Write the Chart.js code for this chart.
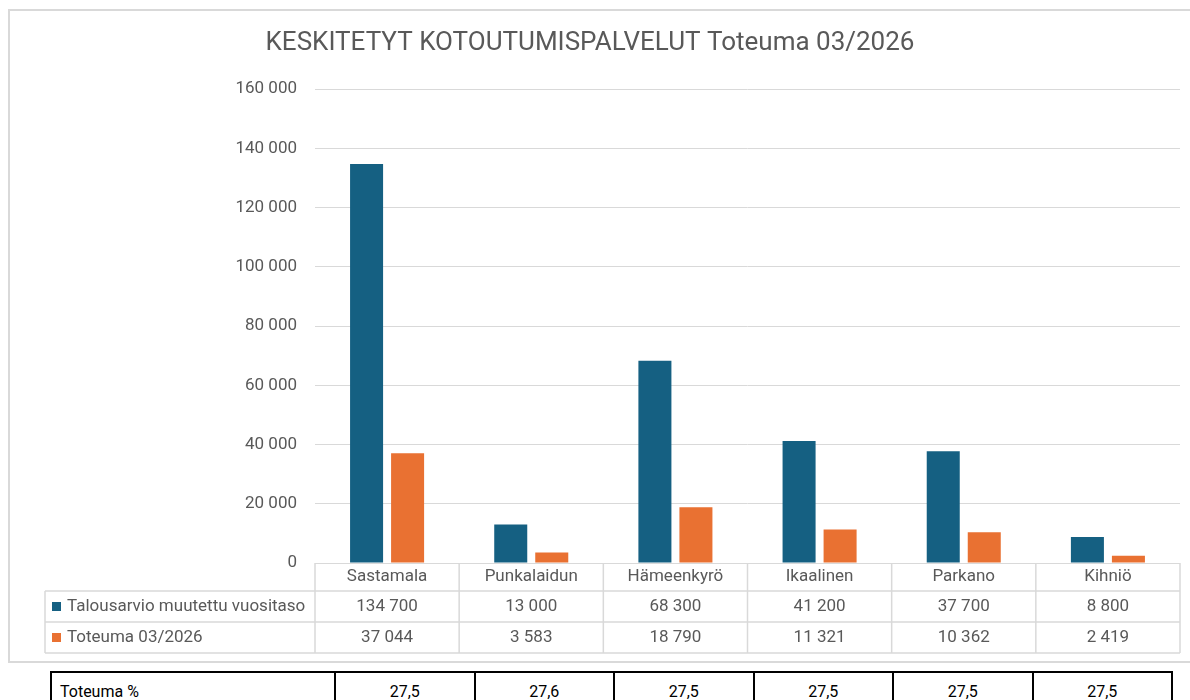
<!DOCTYPE html>
<html lang="fi">
<head>
<meta charset="UTF-8" />
<title>KESKITETYT KOTOUTUMISPALVELUT Toteuma 03/2026</title>
<script src="https://cdn.jsdelivr.net/npm/chart.js"></script>
<style>
  body { margin: 0; background: #fff; font-family: Roboto, sans-serif; overflow: hidden; }
  .frame { position: absolute; left: 8px; top: 9px; width: 1190px; height: 654px; border: 2px solid #d9d9d9; box-sizing: border-box; }
  #chart { position: absolute; left: 0; top: 0; }
  table.pct { position: absolute; left: 50px; top: 671px; width: 1123px; border-collapse: collapse; table-layout: fixed; font-size: 16px; color: #000; }
  table.pct td { border: 2px solid #000; height: 36px; padding: 0 8px; text-align: center; }
  table.pct td:first-child { text-align: left; }
</style>
</head>
<body>
<div class="frame"></div>
<canvas id="chart" width="1190" height="665"></canvas>
<table class="pct"><colgroup><col style="width:284px"></colgroup><tbody><tr id="pctRow"></tr></tbody></table>

<script>
const categories = ["Sastamala", "Punkalaidun", "Hämeenkyrö", "Ikaalinen", "Parkano", "Kihniö"];
const seriesNames = ["Talousarvio muutettu vuositaso", "Toteuma 03/2026"];
const budget = [134700, 13000, 68300, 41200, 37700, 8800];
const actual = [37044, 3583, 18790, 11321, 10362, 2419];
const pctLabel = "Toteuma %";
const toteumaPct = ["27,5", "27,6", "27,5", "27,5", "27,5", "27,5"];

const colors = ["#156082", "#E97132"];
const textColor = "#595959";
const lineColor = "#d9d9d9";
const fontFamily = "Roboto, sans-serif";

function fmt(v) {
  return String(Math.round(v)).replace(/\B(?=(\d{3})+(?!\d))/g, " ");
}

// Excel-tyylinen datataulukko kaavion alle
const dataTablePlugin = {
  id: "dataTable",
  afterDraw(chart) {
    const ctx = chart.ctx;
    const area = chart.chartArea;
    const n = categories.length;
    const w = (area.right - area.left) / n;
    const top = area.bottom;
    const headH = 28, rowH = 31;
    const legendLeft = 45;
    const bottom = top + headH + rowH * 2;

    ctx.save();
    ctx.strokeStyle = lineColor;
    ctx.lineWidth = 1.5;
    ctx.beginPath();
    for (let i = 0; i <= n; i++) {
      const x = area.left + i * w;
      ctx.moveTo(x, top); ctx.lineTo(x, bottom);
    }
    ctx.moveTo(legendLeft, top + headH); ctx.lineTo(legendLeft, bottom);
    for (let r = 0; r <= 2; r++) {
      const y = top + headH + r * rowH;
      ctx.moveTo(legendLeft, y); ctx.lineTo(area.right, y);
    }
    ctx.stroke();

    ctx.fillStyle = textColor;
    ctx.font = "17px " + fontFamily;
    ctx.textAlign = "center";
    ctx.textBaseline = "middle";
    const rows = [budget, actual];
    categories.forEach((c, i) => {
      const cx = chart.scales.x.getPixelForValue(i);
      ctx.fillText(c, cx, top + headH / 2);
      rows.forEach((vals, r) => {
        ctx.fillText(fmt(vals[i]), cx, top + headH + r * rowH + rowH / 2);
      });
    });

    ctx.textAlign = "left";
    seriesNames.forEach((name, r) => {
      const cy = top + headH + r * rowH + rowH / 2;
      ctx.fillStyle = colors[r];
      ctx.fillRect(52, cy - 4.5, 9, 9);
      ctx.fillStyle = textColor;
      ctx.fillText(name, 67, cy);
    });
    ctx.restore();
  }
};

new Chart(document.getElementById("chart"), {
  type: "bar",
  data: {
    labels: categories,
    datasets: [
      { label: seriesNames[0], data: budget, backgroundColor: colors[0], categoryPercentage: 0.569, barPercentage: 0.805 },
      { label: seriesNames[1], data: actual, backgroundColor: colors[1], categoryPercentage: 0.569, barPercentage: 0.805 }
    ]
  },
  options: {
    responsive: false,
    animation: false,
    layout: { padding: { left: 0, right: 10, top: 0, bottom: 102 } },
    plugins: {
      legend: { display: false },
      tooltip: { enabled: false },
      title: {
        display: true,
        text: "KESKITETYT KOTOUTUMISPALVELUT Toteuma 03/2026",
        color: textColor,
        font: { family: fontFamily, size: 26, weight: "normal" },
        padding: { top: 28, bottom: 30 }
      }
    },
    scales: {
      x: { display: false },
      y: {
        min: 0, max: 160000,
        afterFit(scale) { scale.width = 315; },
        border: { display: false },
        grid: { color: lineColor, drawTicks: false },
        ticks: {
          stepSize: 20000, padding: 18, color: textColor,
          font: { family: fontFamily, size: 17 },
          callback: v => fmt(v)
        }
      }
    }
  },
  plugins: [dataTablePlugin]
});

const row = document.getElementById("pctRow");
[pctLabel].concat(toteumaPct).forEach(t => {
  const td = document.createElement("td");
  td.textContent = t;
  row.appendChild(td);
});
</script>
</body>
</html>
